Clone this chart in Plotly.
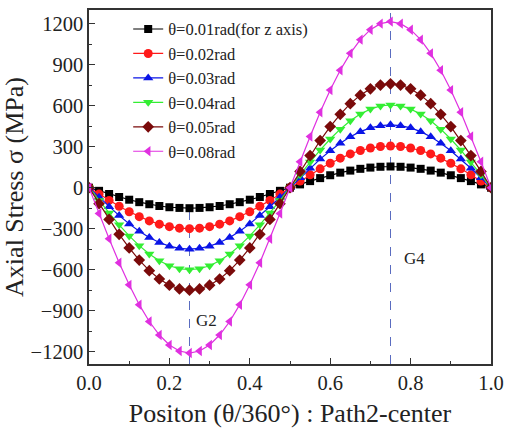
import plotly.graph_objects as go

x_pos = [round(i * 0.025, 3) for i in range(41)]

names = ["θ=0.01rad(for z axis)", "θ=0.02rad", "θ=0.03rad", "θ=0.04rad", "θ=0.05rad", "θ=0.08rad"]

s001 = [0, -23, -46, -68, -88, -106, -121, -134, -143, -148, -150, -148, -143, -134, -121, -106, -88, -68, -46, -23, 0,
        24, 48, 70, 91, 110, 125, 138, 147, 153, 155, 153, 147, 138, 125, 110, 91, 70, 48, 24, 0]
s002 = [0, -47, -93, -136, -176, -212, -243, -267, -285, -296, -300, -296, -285, -267, -243, -212, -176, -136, -93, -47, 0,
        48, 94, 138, 179, 216, 247, 272, 290, 301, 305, 301, 290, 272, 247, 216, 179, 138, 94, 48, 0]
s003 = [0, -70, -139, -204, -265, -318, -364, -401, -428, -444, -450, -444, -428, -401, -364, -318, -265, -204, -139, -70, 0,
        72, 142, 209, 270, 325, 372, 410, 438, 454, 460, 454, 438, 410, 372, 325, 270, 209, 142, 72, 0]
s004 = [0, -94, -185, -272, -353, -424, -485, -535, -571, -593, -600, -593, -571, -535, -485, -424, -353, -272, -185, -94, 0,
        95, 187, 275, 356, 428, 489, 539, 575, 598, 605, 598, 575, 539, 489, 428, 356, 275, 187, 95, 0]
s005 = [0, -117, -232, -341, -441, -530, -607, -668, -713, -741, -750, -741, -713, -668, -607, -530, -441, -341, -232, -117, 0,
        119, 235, 345, 447, 537, 615, 677, 723, 751, 760, 751, 723, 677, 615, 537, 447, 345, 235, 119, 0]
s008 = [0, -189, -374, -549, -711, -856, -979, -1078, -1151, -1195, -1210, -1195, -1151, -1078, -979, -856, -711, -549, -374, -189, 0,
        190, 375, 552, 714, 859, 983, 1083, 1156, 1200, 1215, 1200, 1156, 1083, 983, 859, 714, 552, 375, 190, 0]

series = [s001, s002, s003, s004, s005, s008]
colors = ["#000000", "#ff1a1a", "#0a14e6", "#33ee33", "#7a0a0a", "#e030e0"]
symbols = ["square", "circle", "triangle-up", "triangle-down", "diamond", "triangle-left"]
msizes = [8, 9, 9, 9, 9, 9]

FONT = "Liberation Serif"

fig = go.Figure()
for i, (nm, ys) in enumerate(zip(names, series)):
    fig.add_trace(go.Scatter(
        x=x_pos, y=ys, name=nm, mode="lines+markers",
        line=dict(color=colors[i], width=1.2),
        marker=dict(symbol=symbols[i], size=msizes[i], color=colors[i]),
        legendgroup=f"g{i}",
    ))

dash_color = "#5a6cc0"
fig.add_shape(type="line", x0=0.25, x1=0.25, y0=-1290, y1=-150, xref="x", yref="y",
              line=dict(color=dash_color, width=1, dash="dash"), layer="below")
fig.add_shape(type="line", x0=0.75, x1=0.75, y0=-1290, y1=1300, xref="x", yref="y",
              line=dict(color=dash_color, width=1, dash="dash"), layer="below")

fig.add_annotation(x=0.293, y=-973, text="G2", showarrow=False,
                   font=dict(family=FONT, size=17, color="#222"))
fig.add_annotation(x=0.81, y=-520, text="G4", showarrow=False,
                   font=dict(family=FONT, size=17, color="#222"))

axis_common = dict(
    showline=True, linecolor="#333", linewidth=1.5, mirror=True,
    ticks="inside", ticklen=6, tickwidth=1.2, tickcolor="#333",
    showgrid=False, zeroline=False, automargin=False,
    tickfont=dict(family=FONT, size=20.5, color="#222"),
)

fig.update_xaxes(
    range=[0, 1], dtick=0.2, tick0=0, tickformat=".1f",
    minor=dict(ticks="inside", dtick=0.1, ticklen=3, tickcolor="#333"),
    title=dict(text="Positon (θ/360°) : Path2-center", font=dict(family=FONT, size=26, color="#222"), standoff=10),
    **axis_common,
)
fig.update_yaxes(
    range=[-1290, 1300], dtick=300, tick0=0,
    minor=dict(ticks="inside", dtick=150, ticklen=3, tickcolor="#333"),
    title=dict(text="Axial Stress σ (MPa)", font=dict(family=FONT, size=26, color="#222"), standoff=2),
    **axis_common,
)

fig.update_layout(
    width=505, height=430,
    margin=dict(l=89, r=14, t=10, b=66),
    paper_bgcolor="white", plot_bgcolor="white",
    showlegend=True,
    legend=dict(x=0.0975, y=0.995, xanchor="left", yanchor="top",
                bgcolor="rgba(0,0,0,0)", font=dict(family=FONT, size=16.5, color="#222"),
                tracegroupgap=0, itemwidth=30),
)

fig.write_html(
    "out.html",
    config={"displayModeBar": False},
    post_script="document.body.style.margin='0';document.body.style.overflow='hidden';",
)
